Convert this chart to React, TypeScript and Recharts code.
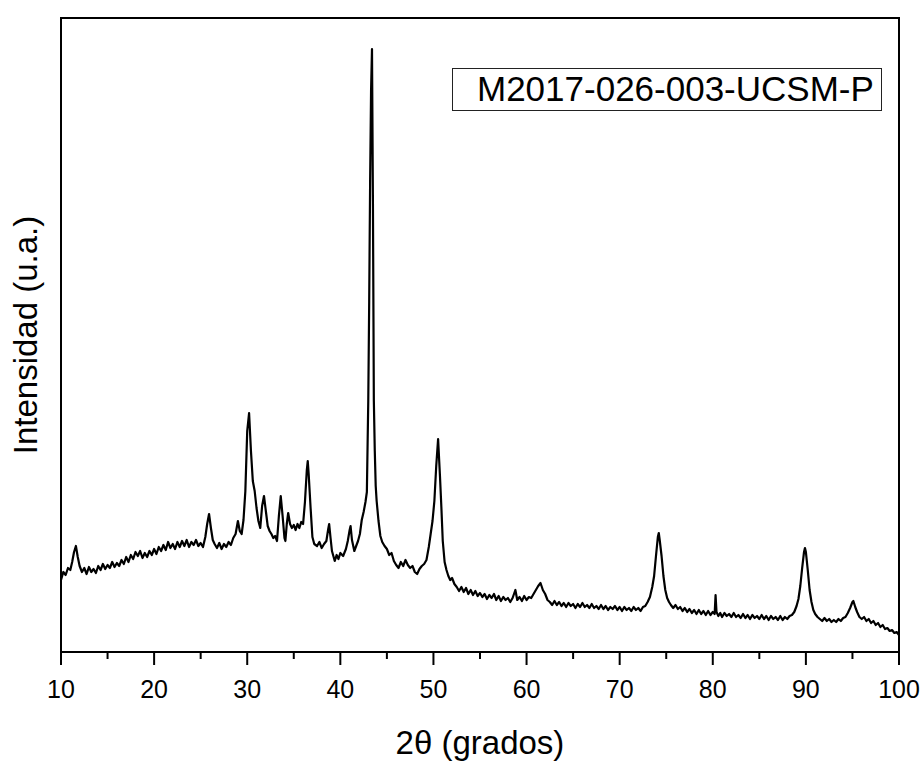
import React from "react";
import {
  LineChart,
  Line,
  XAxis,
  YAxis,
  ReferenceArea,
  Legend,
  Label,
} from "recharts";

// 2θ (deg), intensity (a.u.)
const lowAngle: [number, number][] = [
  [10.0, 72], [10.25, 80], [10.5, 77], [10.75, 84], [11.0, 82], [11.2, 90],
  [11.4, 100], [11.6, 106], [11.8, 95], [12.0, 86], [12.25, 80], [12.5, 84],
  [12.75, 78], [13.0, 85], [13.25, 80], [13.5, 83], [13.75, 79], [14.0, 86],
  [14.25, 82], [14.5, 88], [14.75, 83], [15.0, 87], [15.25, 84], [15.5, 90],
  [15.75, 85], [16.0, 89], [16.25, 86], [16.5, 92], [16.75, 88], [17.0, 95],
  [17.25, 90], [17.5, 97], [17.75, 93], [18.0, 100], [18.25, 96], [18.5, 101],
  [18.75, 94], [19.0, 99], [19.25, 95], [19.5, 101], [19.75, 97], [20.0, 103],
  [20.25, 98], [20.5, 105], [20.75, 101], [21.0, 107], [21.25, 102], [21.5, 110],
  [21.75, 104], [22.0, 108], [22.25, 103], [22.5, 110], [22.75, 105], [23.0, 111],
  [23.25, 106], [23.5, 112], [23.75, 105], [24.0, 110], [24.25, 107], [24.5, 112],
  [24.75, 106], [25.0, 109], [25.25, 105], [25.5, 115], [25.7, 128], [25.9, 138],
  [26.1, 124], [26.3, 112], [26.5, 108], [26.75, 104], [27.0, 109], [27.25, 103],
  [27.5, 108], [27.75, 105], [28.0, 110], [28.25, 107], [28.5, 114], [28.75, 118],
  [29.0, 131], [29.2, 121], [29.4, 118],
];

const peakCluster: [number, number][] = [
  [29.6, 132], [29.8, 161], [30.0, 221], [30.2, 239], [30.4, 201], [30.6, 171],
  [30.8, 161], [31.0, 144], [31.2, 131], [31.4, 124], [31.6, 146], [31.8, 156],
  [32.0, 141], [32.2, 126], [32.4, 121], [32.6, 118], [32.8, 114], [33.0, 116],
  [33.2, 111], [33.4, 136], [33.6, 156], [33.8, 136], [34.0, 114], [34.1, 111],
  [34.25, 128], [34.4, 139], [34.6, 128], [34.8, 124], [35.0, 127], [35.2, 122],
  [35.4, 128], [35.6, 124], [35.8, 130], [36.0, 128], [36.2, 150], [36.4, 182],
  [36.5, 191], [36.6, 178], [36.8, 145], [37.0, 115], [37.2, 108], [37.5, 106],
  [37.75, 110], [38.0, 104], [38.25, 108], [38.5, 111], [38.7, 123], [38.8, 128],
  [38.95, 114], [39.1, 101], [39.4, 91], [39.6, 97], [39.8, 93], [40.0, 99],
  [40.3, 96], [40.6, 103], [40.8, 111], [41.0, 122], [41.1, 126], [41.25, 112],
  [41.5, 101], [41.7, 106], [41.9, 111], [42.1, 118], [42.3, 132], [42.5, 140],
  [42.7, 150], [42.85, 160],
];

const mainPeaks: [number, number][] = [
  [43.0, 251], [43.1, 351], [43.2, 471], [43.3, 561], [43.4, 603], [43.5, 451],
  [43.6, 251], [43.7, 201], [43.8, 166], [43.9, 151], [44.1, 131], [44.3, 116],
  [44.5, 110], [44.75, 106], [45.0, 103], [45.25, 97], [45.5, 99], [45.75, 91],
  [46.0, 87], [46.25, 84], [46.5, 90], [46.75, 86], [47.0, 92], [47.25, 87],
  [47.5, 84], [47.75, 86], [48.0, 80], [48.25, 78], [48.5, 83], [48.75, 86],
  [49.0, 88], [49.25, 92], [49.5, 105], [49.7, 118], [49.9, 131], [50.1, 151],
  [50.3, 186], [50.5, 213], [50.7, 176], [50.85, 145], [51.0, 111], [51.2, 90],
  [51.4, 82], [51.6, 76], [51.8, 72],
];

const midAngle: [number, number][] = [
  [52.0, 74], [52.25, 68], [52.5, 65], [52.75, 61], [53.0, 65], [53.25, 60],
  [53.5, 64], [53.75, 58], [54.0, 62], [54.25, 57], [54.5, 61], [54.75, 56],
  [55.0, 59], [55.25, 55], [55.5, 58], [55.75, 53], [56.0, 57], [56.25, 54],
  [56.5, 58], [56.75, 52], [57.0, 56], [57.25, 51], [57.5, 55], [57.75, 52],
  [58.0, 54], [58.25, 50], [58.5, 54], [58.8, 62], [59.0, 52], [59.25, 55],
  [59.5, 51], [59.75, 56], [60.0, 52], [60.25, 55], [60.5, 54], [60.75, 58],
  [61.0, 62], [61.25, 66], [61.5, 69], [61.75, 62], [62.0, 58], [62.25, 52],
  [62.5, 50], [62.75, 47], [63.0, 51], [63.25, 47], [63.5, 50], [63.75, 46],
  [64.0, 49], [64.25, 45], [64.5, 49], [64.75, 46], [65.0, 48], [65.25, 44],
  [65.5, 48], [65.75, 45], [66.0, 49], [66.25, 45], [66.5, 47], [66.75, 44],
  [67.0, 48], [67.25, 44], [67.5, 46], [67.75, 43], [68.0, 47], [68.25, 43],
  [68.5, 46], [68.75, 42], [69.0, 45], [69.25, 43], [69.5, 46], [69.75, 42],
  [70.0, 45], [70.25, 41], [70.5, 45], [70.75, 42], [71.0, 44], [71.25, 41],
  [71.5, 45], [71.75, 42], [72.0, 44], [72.25, 41], [72.5, 45], [72.75, 46],
];

const highAngle: [number, number][] = [
  [73.0, 50], [73.25, 55], [73.5, 65], [73.7, 76], [73.9, 96], [74.1, 115],
  [74.2, 119], [74.3, 112], [74.5, 96], [74.7, 76], [74.9, 62], [75.1, 54],
  [75.3, 50], [75.5, 47], [75.75, 44], [76.0, 47], [76.25, 43], [76.5, 45],
  [76.75, 41], [77.0, 44], [77.25, 40], [77.5, 43], [77.75, 39], [78.0, 42],
  [78.25, 38], [78.5, 42], [78.75, 38], [79.0, 41], [79.25, 37], [79.5, 41],
  [79.75, 37], [80.0, 40], [80.2, 38], [80.3, 57], [80.4, 40], [80.6, 36],
  [80.8, 39], [81.0, 35], [81.25, 39], [81.5, 36], [81.75, 38], [82.0, 35],
  [82.25, 39], [82.5, 35], [82.75, 37], [83.0, 34], [83.25, 38], [83.5, 34],
  [83.75, 37], [84.0, 33], [84.25, 37], [84.5, 34], [84.75, 36], [85.0, 33],
  [85.25, 37], [85.5, 33], [85.75, 36], [86.0, 32], [86.25, 36], [86.5, 33],
  [86.75, 35], [87.0, 32], [87.25, 36], [87.5, 32], [87.75, 35], [88.0, 33],
  [88.25, 36], [88.5, 37], [88.75, 40], [89.0, 46], [89.2, 53], [89.4, 66],
  [89.6, 84], [89.8, 100], [89.9, 104], [90.0, 100], [90.2, 82], [90.4, 62],
  [90.6, 50], [90.8, 42], [91.0, 38], [91.25, 35], [91.5, 33], [91.75, 31],
  [92.0, 34], [92.25, 31], [92.5, 33], [92.75, 30], [93.0, 32], [93.25, 30],
  [93.5, 33], [93.75, 31], [94.0, 34], [94.25, 35], [94.5, 39], [94.75, 44],
  [95.0, 50], [95.1, 51], [95.3, 45], [95.5, 40], [95.75, 35], [96.0, 33],
  [96.25, 35], [96.5, 31], [96.75, 33], [97.0, 29], [97.25, 31], [97.5, 27],
  [97.75, 29], [98.0, 25], [98.25, 27], [98.5, 23], [98.75, 24], [99.0, 21],
  [99.25, 22], [99.5, 19], [99.75, 20], [100.0, 17],
];

const angleTicks = [10, 15, 20, 25, 30, 35, 40, 45, 50, 55, 60, 65, 70, 75, 80, 85, 90, 95, 100];
const sampleName = "M2017-026-003-UCSM-P";

const scan = [...lowAngle, ...peakCluster, ...mainPeaks, ...midAngle, ...highAngle].map(
  ([angle, counts]) => ({ angle, counts })
);

const FONT = '"Liberation Sans", Arial, sans-serif';

function AngleTick(props: any) {
  const { x, y, payload } = props;
  const major = payload.value % 10 === 0;
  return (
    <g>
      <line x1={x} y1={y} x2={x} y2={y + (major ? 13 : 7)} stroke="#000" strokeWidth={2} />
      {major && (
        <text x={x} y={y + 46} textAnchor="middle" fontSize={25} fontFamily={FONT} fill="#000">
          {payload.value}
        </text>
      )}
    </g>
  );
}

function SampleLegend() {
  return (
    <div
      style={{
        boxSizing: "border-box",
        width: 430,
        height: 43,
        border: "1.5px solid #222",
        background: "#fff",
        fontFamily: FONT,
        fontSize: 35,
        lineHeight: "40px",
        paddingLeft: 24,
        color: "#000",
        whiteSpace: "nowrap",
      }}
    >
      {sampleName}
    </div>
  );
}

export default function App() {
  return (
    <div style={{ width: 923, height: 762, background: "#fff" }}>
      <style>{"body{margin:0}"}</style>
      <LineChart
        width={923}
        height={762}
        data={scan}
        margin={{ top: 18, right: 24, left: 0, bottom: 0 }}
      >
        <XAxis
          dataKey="angle"
          type="number"
          domain={[10, 100]}
          ticks={angleTicks}
          interval={0}
          height={110}
          axisLine={false}
          tickLine={false}
          tickSize={0}
          tickMargin={0}
          tick={<AngleTick />}
          allowDataOverflow
        >
          <Label
            value="2θ (grados)"
            position="insideBottom"
            offset={8}
            fontSize={33}
            fontFamily={FONT}
            fill="#000"
          />
        </XAxis>
        <YAxis
          type="number"
          domain={[0, 634]}
          width={61}
          tick={false}
          axisLine={false}
          tickLine={false}
        >
          <Label
            content={() => (
              <text
                x={37}
                y={335}
                transform="rotate(-90 37 335)"
                textAnchor="middle"
                fontSize={33}
                fontFamily={FONT}
                fill="#000"
              >
                Intensidad (u.a.)
              </text>
            )}
          />
        </YAxis>
        <ReferenceArea
          x1={10}
          x2={100}
          y1={0}
          y2={634}
          fill="none"
          fillOpacity={0}
          stroke="#000"
          strokeWidth={2}
          ifOverflow="visible"
        />
        <Legend
          layout="horizontal"
          verticalAlign="middle"
          align="center"
          content={() => <SampleLegend />}
          wrapperStyle={{ left: 452, top: 68, width: 430, height: 43 }}
        />
        <Line
          type="linear"
          dataKey="counts"
          stroke="#000"
          strokeWidth={2.2}
          strokeLinejoin="round"
          dot={false}
          isAnimationActive={false}
        />
      </LineChart>
    </div>
  );
}
